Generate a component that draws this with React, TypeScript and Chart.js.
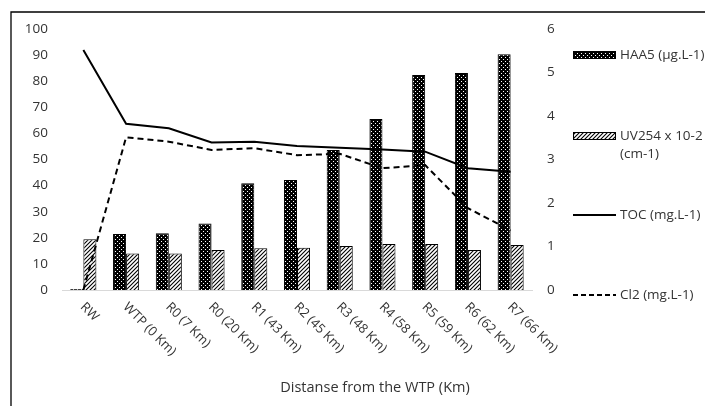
import React, { useEffect, useRef } from "react";
import { Chart, registerables } from "chart.js";

Chart.register(...registerables);

const categories = [
  "RW",
  "WTP (0 Km)",
  "R0 (7 Km)",
  "R0 (20 Km)",
  "R1 (43 Km)",
  "R2 (45 Km)",
  "R3 (48 Km)",
  "R4 (58 Km)",
  "R5 (59 Km)",
  "R6 (62 Km)",
  "R7 (66 Km)",
];
const haa5 = [0, 21.5, 21.7, 25.5, 40.9, 42.1, 53.6, 65.5, 82.4, 83.1, 90.3];
const uv254 = [19.4, 14.0, 14.0, 15.3, 16.0, 16.2, 16.9, 17.6, 17.6, 15.3, 17.2];
const toc = [5.52, 3.82, 3.72, 3.39, 3.41, 3.31, 3.27, 3.23, 3.18, 2.8, 2.72];
const cl2 = [0, 3.51, 3.41, 3.22, 3.26, 3.1, 3.13, 2.8, 2.87, 1.88, 1.37];

const haa5Label = "HAA5 (µg.L-1)";
const uvLabel = ["UV254 x 10-2", "(cm-1)"];
const tocLabel = "TOC (mg.L-1)";
const cl2Label = "Cl2 (mg.L-1)";
const xTitle = "Distanse from the WTP (Km)";

const FONT = '"Open Sans", "Noto Sans", sans-serif';
const TEXT = "#333333";

function dotPattern(): CanvasPattern {
  const c = document.createElement("canvas");
  c.width = 4;
  c.height = 4;
  const g = c.getContext("2d")!;
  g.fillStyle = "#000";
  g.fillRect(0, 0, 4, 4);
  g.fillStyle = "#fff";
  g.fillRect(1, 1, 1, 1);
  g.fillRect(3, 3, 1, 1);
  return g.createPattern(c, "repeat")!;
}

function hatchPattern(): CanvasPattern {
  const s = 4;
  const c = document.createElement("canvas");
  c.width = s;
  c.height = s;
  const g = c.getContext("2d")!;
  g.fillStyle = "#fff";
  g.fillRect(0, 0, s, s);
  g.strokeStyle = "#000";
  g.lineWidth = 1.1;
  g.beginPath();
  g.moveTo(0, s);
  g.lineTo(s, 0);
  g.moveTo(-1, 1);
  g.lineTo(1, -1);
  g.moveTo(s - 1, s + 1);
  g.lineTo(s + 1, s - 1);
  g.stroke();
  return g.createPattern(c, "repeat")!;
}

export default function App() {
  const ref = useRef<HTMLCanvasElement | null>(null);

  useEffect(() => {
    if (!ref.current) return;
    const dots = dotPattern();
    const hatch = hatchPattern();

    const custom = {
      id: "custom",
      beforeDraw(chart: any) {
        const ctx = chart.ctx as CanvasRenderingContext2D;
        ctx.save();
        ctx.fillStyle = "#fff";
        ctx.fillRect(0, 0, chart.width, chart.height);
        ctx.strokeStyle = "#000";
        ctx.lineWidth = 1.3;
        ctx.beginPath();
        ctx.moveTo(11, chart.height + 5);
        ctx.lineTo(11, 12);
        ctx.lineTo(chart.width + 5, 12);
        ctx.stroke();
        ctx.restore();
      },
      afterDraw(chart: any) {
        const ctx = chart.ctx as CanvasRenderingContext2D;
        const xs = chart.scales.x;
        ctx.save();
        ctx.fillStyle = TEXT;
        ctx.font = `13px ${FONT}`;
        // rotated category labels
        categories.forEach((c, i) => {
          const px = xs.getPixelForValue(i);
          ctx.save();
          ctx.translate(px - 1, 305);
          ctx.rotate(Math.PI / 4);
          ctx.textAlign = "left";
          ctx.textBaseline = "middle";
          ctx.fillText(c, 0, 0);
          ctx.restore();
        });
        // x axis title
        ctx.font = `14.5px ${FONT}`;
        ctx.textAlign = "center";
        ctx.textBaseline = "middle";
        ctx.fillText(xTitle, 375, 388);

        // legend
        const sx = 573;
        const sw = 43;
        const tx = 620;
        ctx.font = `13.5px ${FONT}`;
        ctx.textAlign = "left";
        ctx.textBaseline = "middle";

        // HAA5
        let y = 55;
        ctx.fillStyle = dots;
        ctx.fillRect(sx, y - 4, sw, 8);
        ctx.strokeStyle = "#000";
        ctx.lineWidth = 1;
        ctx.strokeRect(sx + 0.5, y - 3.5, sw - 1, 7);
        ctx.fillStyle = TEXT;
        ctx.fillText(haa5Label, tx, y);

        // UV
        y = 136;
        ctx.fillStyle = hatch;
        ctx.fillRect(sx, y - 4, sw, 8);
        ctx.strokeRect(sx + 0.5, y - 3.5, sw - 1, 7);
        ctx.fillStyle = TEXT;
        ctx.fillText(uvLabel[0], tx, y);
        ctx.fillText(uvLabel[1], tx, y + 18);

        // TOC
        y = 215;
        ctx.strokeStyle = "#000";
        ctx.lineWidth = 2;
        ctx.beginPath();
        ctx.moveTo(sx, y);
        ctx.lineTo(sx + sw, y);
        ctx.stroke();
        ctx.fillText(tocLabel, tx, y);

        // Cl2
        y = 295;
        ctx.setLineDash([5, 3]);
        ctx.beginPath();
        ctx.moveTo(sx, y);
        ctx.lineTo(sx + sw, y);
        ctx.stroke();
        ctx.setLineDash([]);
        ctx.fillText(cl2Label, tx, y);
        ctx.restore();
      },
    };

    const chart = new Chart(ref.current, {
      type: "bar",
      data: {
        labels: categories,
        datasets: [
          {
            type: "line",
            label: tocLabel,
            data: toc,
            yAxisID: "y1",
            borderColor: "#000",
            borderWidth: 2,
            pointRadius: 0,
            tension: 0,
            fill: false,
            order: 0,
          } as any,
          {
            type: "line",
            label: cl2Label,
            data: cl2,
            yAxisID: "y1",
            borderColor: "#000",
            borderWidth: 2,
            borderDash: [6, 4],
            pointRadius: 0,
            tension: 0,
            fill: false,
            order: 0,
          } as any,
          {
            type: "bar",
            label: haa5Label,
            data: haa5,
            yAxisID: "y",
            backgroundColor: dots,
            borderColor: "#000",
            borderWidth: 1,
            minBarLength: 1,
            categoryPercentage: 0.61,
            barPercentage: 1,
            order: 1,
          } as any,
          {
            type: "bar",
            label: uvLabel.join(" "),
            data: uv254,
            yAxisID: "y",
            backgroundColor: hatch,
            borderColor: "#000",
            borderWidth: 1,
            categoryPercentage: 0.61,
            barPercentage: 1,
            order: 1,
          } as any,
        ],
      },
      options: {
        animation: false,
        responsive: true,
        maintainAspectRatio: false,
        layout: { padding: { left: 10, top: 29, right: 143, bottom: 0 } },
        plugins: {
          legend: { display: false },
          tooltip: { enabled: false },
        },
        scales: {
          x: {
            grid: { display: false, drawTicks: false },
            border: { display: true, color: "#d9d9d9", width: 1 },
            ticks: { display: false },
            afterFit: (s: any) => {
              s.height = 116;
            },
          },
          y: {
            position: "left",
            min: 0,
            max: 100,
            ticks: {
              stepSize: 10,
              padding: 14,
              color: TEXT,
              font: { family: FONT, size: 13.5 },
            },
            grid: { display: false, drawTicks: false },
            border: { display: false },
            afterFit: (s: any) => {
              s.width = 52;
            },
          },
          y1: {
            position: "right",
            min: 0,
            max: 6,
            ticks: {
              stepSize: 1,
              padding: 15,
              color: TEXT,
              font: { family: FONT, size: 13.5 },
            },
            grid: { display: false, drawTicks: false },
            border: { display: false },
            afterFit: (s: any) => {
              s.width = 30;
            },
          },
        },
      } as any,
      plugins: [custom],
    });

    return () => chart.destroy();
  }, []);

  return (
    <div
      style={{
        position: "absolute",
        left: 0,
        top: 0,
        width: 705,
        height: 406,
        background: "#fff",
      }}
    >
      <canvas ref={ref} />
    </div>
  );
}
